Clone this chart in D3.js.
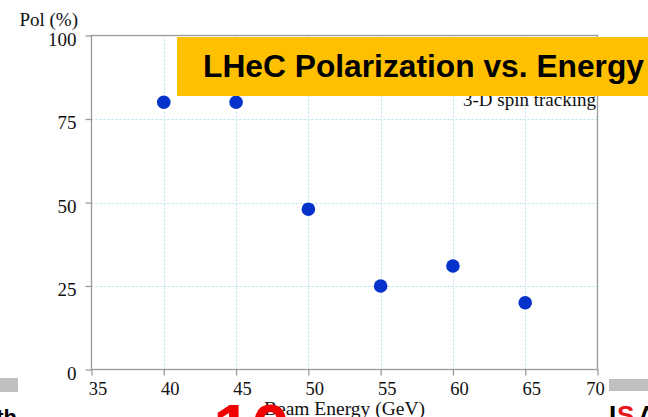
<!DOCTYPE html>
<html><head><meta charset="utf-8">
<script src="https://cdn.jsdelivr.net/npm/d3@7"></script>
<style>
html,body{margin:0;padding:0;background:#fff;overflow:hidden}
svg{display:block}
</style></head>
<body>
<svg id="chart" width="648" height="417"></svg>
<script>
const energies = [40, 45, 50, 55, 60, 65];
const polarization = [80, 80, 48, 25, 31, 20];
const xTicks = [35, 40, 45, 50, 55, 60, 65, 70];
const yTicks = [0, 25, 50, 75, 100];
const title = "LHeC Polarization vs. Energy";
const note = "3-D spin tracking";
const xLabel = "Beam Energy (GeV)";
const yLabel = "Pol (%)";

const svg = d3.select("#chart");
const serif = "'Liberation Serif','Times New Roman',serif";
const sans = "'Liberation Sans',Arial,sans-serif";

const x = d3.scaleLinear().domain([35, 70]).range([91.5, 597.5]);
const y = d3.scaleLinear().domain([0, 100]).range([369.5, 35.5]);

const axisColor = "#9a9a9a";
const gridColor = "#b2e0ee";

// grid
const g = svg.append("g");
g.selectAll(".vg").data(xTicks.slice(1, -1)).join("line")
  .attr("x1", d => Math.round(x(d)) + 0.5).attr("x2", d => Math.round(x(d)) + 0.5)
  .attr("y1", y(100)).attr("y2", y(0))
  .attr("stroke", gridColor).attr("stroke-width", 1).attr("stroke-dasharray", "2,2");
g.selectAll(".hg").data(yTicks.slice(1, -1)).join("line")
  .attr("x1", x(35)).attr("x2", x(70))
  .attr("y1", d => Math.round(y(d)) + 0.5).attr("y2", d => Math.round(y(d)) + 0.5)
  .attr("stroke", gridColor).attr("stroke-width", 1).attr("stroke-dasharray", "2,2");

// frame
svg.append("rect").attr("x", x(35)).attr("y", y(100))
  .attr("width", x(70) - x(35)).attr("height", y(0) - y(100))
  .attr("fill", "none").attr("stroke", axisColor).attr("stroke-width", 1.3);

// y axis
const yAxis = svg.append("g").attr("transform", `translate(${x(35)},0)`)
  .call(d3.axisLeft(y).tickValues(yTicks).tickSize(6).tickPadding(9).tickFormat(d3.format("d")));
yAxis.select(".domain").remove();
yAxis.selectAll(".tick line").attr("stroke", axisColor).attr("stroke-width", 1.3);
yAxis.selectAll(".tick text").attr("font-family", serif).attr("font-size", 19)
  .attr("fill", "#111").attr("dy", "9.5").attr("dominant-baseline", "auto");

// x axis
const xAxis = svg.append("g").attr("transform", `translate(0,${y(0)})`)
  .call(d3.axisBottom(x).tickValues(xTicks).tickSize(6).tickPadding(4).tickFormat(d3.format("d")));
xAxis.select(".domain").remove();
xAxis.selectAll(".tick line").attr("stroke", axisColor).attr("stroke-width", 1.3);
xAxis.selectAll(".tick text").attr("font-family", serif).attr("font-size", 18.5)
  .attr("fill", "#111").attr("dy", null).attr("y", 25.5)
  .attr("dx", d => d === 70 ? -2.5 : 6);

// points
svg.append("g").selectAll("circle").data(energies).join("circle")
  .attr("cx", d => x(d)).attr("cy", (d, i) => y(polarization[i]))
  .attr("r", 6.8).attr("fill", "#0632cc");

// axis labels
svg.append("text").attr("x", 78).attr("y", 26).attr("text-anchor", "end")
  .attr("font-family", serif).attr("font-size", 19).attr("fill", "#111").text(yLabel);
svg.append("text").attr("x", (x(35) + x(70)) / 2).attr("y", 415).attr("text-anchor", "middle")
  .attr("font-family", serif).attr("font-size", 19.5).attr("fill", "#111").text(xLabel);

// note
svg.append("text").attr("x", 596).attr("y", 106).attr("text-anchor", "end")
  .attr("font-family", serif).attr("font-size", 19).attr("fill", "#111").text(note);

// title banner
svg.append("rect").attr("x", 177).attr("y", 37).attr("width", 471).attr("height", 59)
  .attr("fill", "#ffc000");
svg.append("text").attr("x", 203).attr("y", 77).attr("font-family", sans)
  .attr("font-weight", "bold").attr("font-size", 30.5).attr("fill", "#000")
  .attr("textLength", 441).attr("lengthAdjust", "spacingAndGlyphs").text(title);

// slide remnants
svg.append("rect").attr("x", 0).attr("y", 378).attr("width", 18).attr("height", 14).attr("fill", "#c0c0c0");
svg.append("rect").attr("x", 609).attr("y", 379).attr("width", 39).attr("height", 12).attr("fill", "#c0c0c0");
svg.append("text").attr("x", 17).attr("y", 425).attr("text-anchor", "end")
  .attr("font-family", sans).attr("font-weight", "bold").attr("font-size", 22).attr("fill", "#000").text("th");
const r = svg.append("text").attr("y", 424)
  .attr("font-family", sans).attr("font-weight", "bold").attr("font-size", 26);
r.append("tspan").attr("x", 609).attr("fill", "#000").text("I");
r.append("tspan").attr("x", 617).attr("fill", "#e8141c").text("S");
r.append("tspan").attr("x", 638).attr("fill", "#000").text("A");
svg.append("text").attr("x", 213).attr("y", 452)
  .attr("font-family", sans).attr("font-weight", "bold").attr("font-size", 69).attr("fill", "#f00000").text("10");
</script>
</body></html>
